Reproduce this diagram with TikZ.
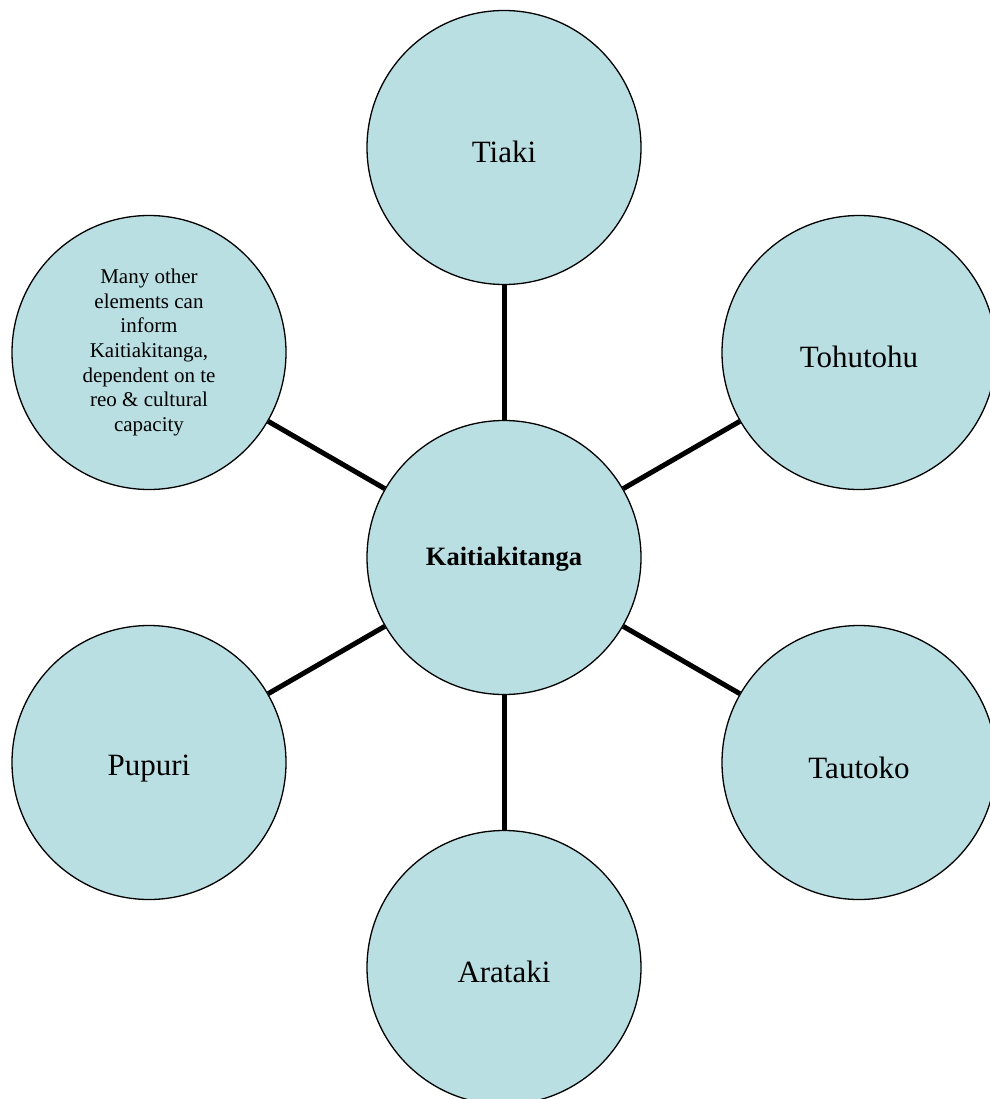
\documentclass[tikz,border=0pt]{standalone}
\usepackage{fontspec}
\setmainfont{Liberation Serif}
\definecolor{bubble}{RGB}{186,223,227}
\newcommand{\lowered}[2]{\raisebox{-#1pt}[\height][\depth]{#2}}
\begin{document}
\begin{tikzpicture}[x=1pt,y=-1pt,
  bub/.style={circle,draw=black,line width=1.3pt,fill=bubble,minimum size=274pt,inner sep=0pt,text=black,align=center},
  big/.style={font=\fontsize{31}{36}\selectfont},
  link/.style={line width=5pt,black}]
\useasboundingbox (0,0) rectangle (989,1099);
\node[bub,font=\bfseries\fontsize{26.5}{30}\selectfont] (k) at (504,557.5) {\lowered{2}{Kaitiakitanga}};
\node[bub,big] (tiaki) at (504,147.5) {\lowered{4}{Tiaki}};
\node[bub,big] (tohu) at (859,352.5) {\lowered{4}{Tohutohu}};
\node[bub,big] (taut) at (859,762.5) {\lowered{5}{Tautoko}};
\node[bub,big] (ara) at (504,967.5) {\lowered{4}{Arataki}};
\node[bub,big] (pup) at (149,762.5) {\lowered{6}{Pupuri}};
\node[bub,font=\fontsize{21}{24.6}\selectfont] (many) at (149,352.5) {Many other\\elements can\\inform\\Kaitiakitanga,\\dependent on te\\reo \& cultural\\capacity};
\draw[link] (k) -- (tiaki);
\draw[link] (k) -- (tohu);
\draw[link] (k) -- (taut);
\draw[link] (k) -- (ara);
\draw[link] (k) -- (pup);
\draw[link] (k) -- (many);
\end{tikzpicture}
\end{document}
